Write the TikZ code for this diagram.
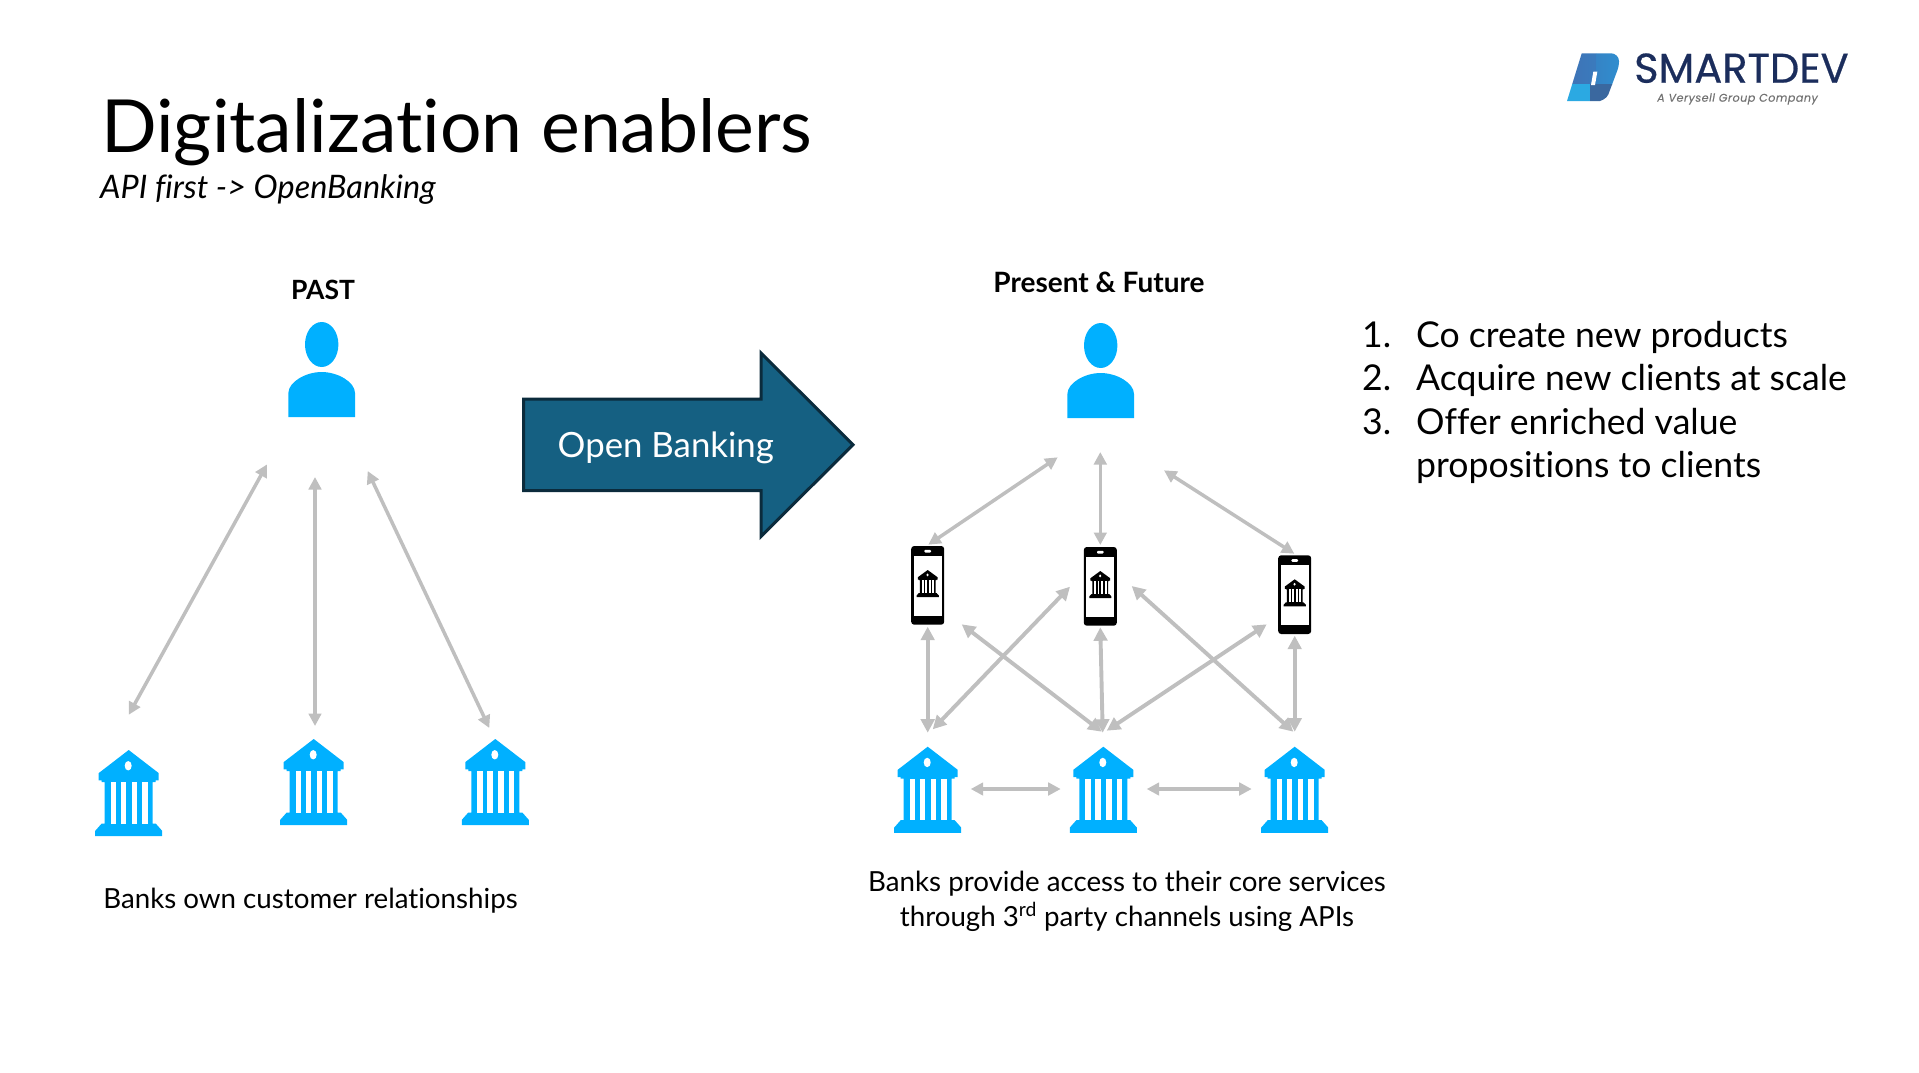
\documentclass[tikz,border=0pt]{standalone}
\usepackage{fontspec}
\setmainfont{Lato}[Ligatures=NoCommon]
\newfontfamily\logofont{Poppins}[FakeBold=0.6]
\newfontfamily\tagfont{Poppins}[LetterSpace=4,FakeBold=0.3]
\usetikzlibrary{arrows.meta}

\definecolor{iconblue}{HTML}{00B0FF}
\definecolor{linkgrey}{HTML}{BFBFBF}
\definecolor{arrowfill}{HTML}{156082}
\definecolor{arrowline}{HTML}{0B2B3C}
\definecolor{logonavy}{HTML}{1B2D5C}
\definecolor{logoa}{HTML}{3F72B5}
\definecolor{logob}{HTML}{2F8FD0}
\definecolor{logoc}{HTML}{2BA9E2}
\definecolor{logod}{HTML}{3A689F}

\tikzset{
  label/.style={inner sep=0pt,anchor=base west,font=\fontsize{35.6}{43}\selectfont},
  heading/.style={inner sep=0pt,anchor=base,font=\fontsize{28}{32}\selectfont\bfseries},
  caption/.style={inner sep=0pt,anchor=base,align=center,font=\fontsize{27.7}{34.5}\selectfont},
  link/.style={<->,>={Triangle[length=12.5pt,width=12.5pt]},draw=linkgrey,line width=3.5pt},
  thicklink/.style={link,line width=3.9pt,>={Triangle[length=13.5pt,width=13.5pt]}},
  bank/.pic={
    \fill[pic actions] (0,0) -- (30,22) -- (30,29) -- (27,29) -- (27,30.5) -- (24,30.5) -- (24,70)
      -- (27,70) -- (33.5,77) -- (33.5,82) -- (-33.5,82) -- (-33.5,77) -- (-27,70) -- (-24,70)
      -- (-24,30.5) -- (-27,30.5) -- (-27,29) -- (-30,29) -- (-30,22) -- cycle;
    \fill[white] (-0.5,15) ellipse (3.5 and 4.5);
    \foreach \x in {-18,-8,3,13.5}
      \fill[white] (\x,30.5) rectangle ++(5.5,39.5);
  },
  person/.pic={
    \fill[iconblue] (0,22.5) ellipse (16.7 and 22.5);
    \fill[iconblue] (-33.3,95) -- (-33.3,71) .. controls (-33.3,60) and (-16,50) .. (0,50)
      .. controls (16,50) and (33.3,60) .. (33.3,71) -- (33.3,95) -- cycle;
  },
  phone/.pic={
    \fill[black,rounded corners=3pt] (-16.5,0) rectangle (16.5,78.7);
    \fill[white] (-14,9.5) rectangle (14,69.5);
    \fill[white,rounded corners=1pt] (-3.3,3.8) rectangle (3.3,6.6);
    \pic[fill=black,scale=0.33] at (0,24) {bank};
  },
}

\begin{document}
\begin{tikzpicture}[x=1pt,y=-1pt]
  \useasboundingbox (0,0) rectangle (1919,1073);

  % Title
  \node[inner sep=0pt,anchor=base west,font=\fontsize{73.3}{80}\selectfont] (title) at (101,152) {Digitalization enablers};
  \node[inner sep=0pt,anchor=base west,font=\fontsize{32.4}{36}\selectfont\itshape] (subtitle) at (100,198.5) {API first -> OpenBanking};

  % Logo
  \begin{scope}
    \clip (1581.7,53.3) [rounded corners=8pt] -- (1619,53.3) [rounded corners=4pt] -- (1619,66) -- (1607,98) [rounded corners=0pt] -- (1600,101) -- (1567,101) -- cycle;
    \shade[left color=logoa,right color=logoa!70!logob] (1565,50) rectangle (1596,84);
    \shade[left color=logoa!40!logob,right color=logob] (1596,50) rectangle (1622,84);
    \fill[logoc] (1565,84) rectangle (1590,103);
    \fill[logod] (1590,84) rectangle (1622,103);
  \end{scope}
  \fill[white] (1593.3,71.7) -- (1597.3,71.7) -- (1595,85) -- (1591,85) -- cycle;
  \node[inner sep=0pt,anchor=base west,text=logonavy,font=\logofont\fontsize{41.5}{44}\selectfont] (logoname) at (1634,82.7) {SMARTDEV};
  \node[inner sep=0pt,anchor=base west,text=black!55,font=\tagfont\fontsize{11.2}{14}\selectfont\itshape] (logotag) at (1657,101.7) {A Verysell Group Company};

  % Past
  \node[heading,font=\fontsize{26.5}{32}\selectfont\bfseries] (past) at (323,299) {PAST};
  \pic at (321.7,322) {person};
  \foreach \name/\x/\y in {PB-1/128.7/750, PB-2/313.7/739, PB-3/495.3/739}
    \pic (\name) [fill=iconblue,yscale=1.05] at (\x,\y) {bank};
  \node[caption] (pastnote) at (310.5,908) {Banks own customer relationships};

  % Open Banking arrow
  \path[fill=arrowfill,draw=arrowline,line width=3pt] (523.5,399) -- (761,399) -- (761,353)
    -- (853,444.7) -- (761,536.5) -- (761,490.5) -- (523.5,490.5) -- cycle;
  \node[inner sep=0pt,anchor=base west,text=white,font=\fontsize{34.8}{40}\selectfont] (openbanking) at (557.5,457) {Open Banking};

  % Present and future
  \node[heading] (present) at (1099,292) {Present \& Future};
  \pic at (1100.7,323) {person};
  \foreach \name/\x/\y in {PH-1/927.7/546, PH-2/1100.3/547, PH-3/1294.7/555.3}
    \pic (\name) at (\x,\y) {phone};
  \foreach \name/\x in {FB-1/927.7, FB-2/1103.3, FB-3/1294.7}
    \pic (\name) [fill=iconblue,yscale=1.05] at (\x,746.7) {bank};
  \node[caption] (presentnote) at (1127,926) {Banks provide access to their core services\\through 3\textsuperscript{rd} party channels using APIs};

  % Ends of the connectors
  \foreach \name/\x/\y in {
      a1/128.7/714.8, a2/267/464.4, b1/315/726, b2/315/477, c1/489.3/728, c2/367.7/471,
      d1/928.3/544.7, d2/1057.7/457.3, e1/1100.3/545, e2/1100.3/452, f1/1294.3/553.7, f2/1164/470.3,
      g1/927.7/732.7, g2/927.7/626.7, h1/932.7/729.3, h2/1070/586.7, i1/1101.7/731.7, i2/961.7/624.3,
      j1/1102.7/732.7, j2/1100.3/627.3, k1/1106.7/730.7, k2/1266.7/624.3, l1/1293.3/731.7, l2/1131.7/586,
      m1/1294.7/731.7, m2/1294.7/635.7, n1/970.7/789, n2/1060.7/789, o1/1146.7/789, o2/1251.7/789}
    \coordinate (\name) at (\x,\y);

  % Connectors
  \foreach \n in {a,...,f,n,o}
    \draw[link] (\n1) -- (\n2);
  \foreach \n in {g,...,m}
    \draw[thicklink] (\n1) -- (\n2);

  % List
  \foreach \num/\y in {1/347,2/390,3/434}
    \node[label] (num-\num) at (1362,\y) {\num.};
  \node[label] (item-1) at (1416,347) {Co create new products};
  \node[label] (item-2) at (1416,390) {Acquire new clients at scale};
  \node[label] (item-3) at (1416,434) {Offer enriched value};
  \node[label] (item-4) at (1416,477) {propositions to clients};
\end{tikzpicture}
\end{document}
